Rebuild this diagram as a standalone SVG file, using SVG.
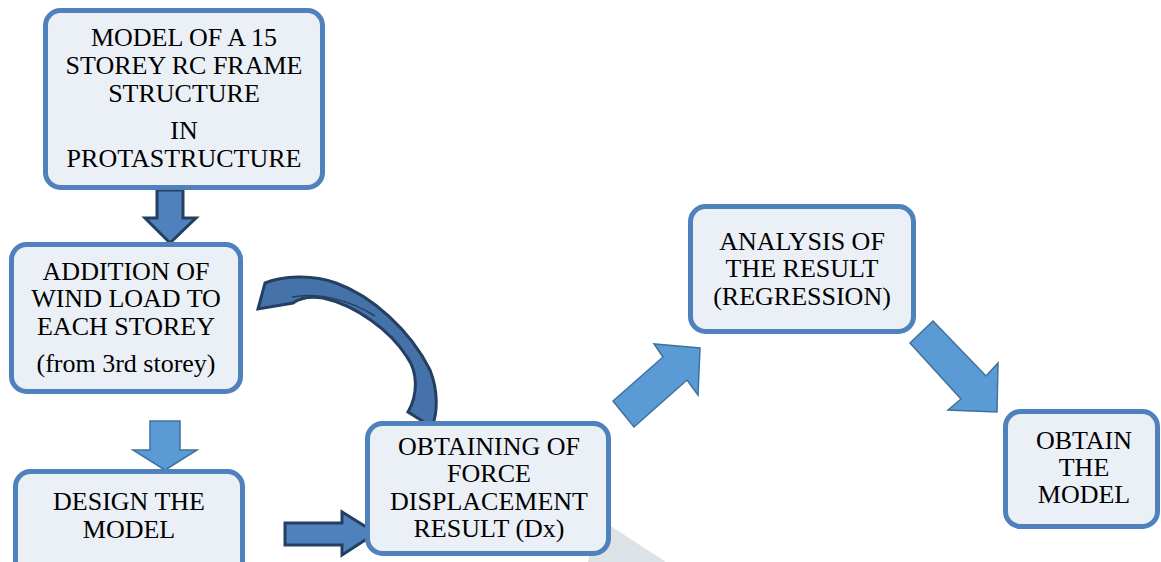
<svg xmlns="http://www.w3.org/2000/svg" width="1161" height="562" viewBox="0 0 1161 562">
<style>
.box{fill:#ebf0f7;stroke:#4f81bd;stroke-width:5}
.t{font-size:26px;fill:#000;text-anchor:middle}
.dark{fill:#4f81bd;stroke:#243f60;stroke-width:3;stroke-linejoin:miter}
.light{fill:#5b9bd5;stroke:#41719c;stroke-width:1.5;stroke-linejoin:miter}
</style>
<rect width="1161" height="562" fill="#ffffff"/>
<polygon points="598,519 612,527 666,562 588,562" fill="#dce2e5"/>
<g id="connectors">
<polygon class="dark" points="157,190 183,190 183,218 196,218 170,243 145,218 157,218"/>
<polygon class="light" points="150,421 180,421 180,450 197,450 165,470 133,450 150,450"/>
<polygon class="dark" points="285,523 342,523 342,512 376,533 342,555 342,545 285,545"/>
<polygon class="light" points="613,401 663,357 654,344 700,348 698,395 687,380 634,427"/>
<polygon class="light" points="933,321 986,376 998,363 997,412 948,410 961,399 910,343"/>
<path d="M265,283 C282,276 312,274 336,283 C372,296 410,330 430,370 C438,390 438,412 432,427 L408,412 C418,395 418,372 407,357 C390,330 355,305 323,298 C310,296 300,298 293,303 L258,309 Z" fill="#4472a9" stroke="#243f60" stroke-width="3" stroke-linejoin="miter"/>
<path d="M292,297 C318,292 350,300 375,316" fill="none" stroke="#243f60" stroke-width="1.5"/>
</g>
<g font-family="'Liberation Serif', 'Times New Roman', 'DejaVu Serif', serif">
<g id="node1">
<rect class="box" x="45.5" y="10.5" width="277" height="177" rx="15"/>
<text class="t" x="184" y="46">MODEL OF A 15</text>
<text class="t" x="184" y="73.5">STOREY RC FRAME</text>
<text class="t" x="184" y="101.5">STRUCTURE</text>
<text class="t" x="184" y="139">IN</text>
<text class="t" x="184" y="167">PROTASTRUCTURE</text>
</g>
<g id="node2">
<rect class="box" x="11.5" y="244.5" width="229" height="147" rx="15"/>
<text class="t" x="126" y="280">ADDITION OF</text>
<text class="t" x="126" y="307">WIND LOAD TO</text>
<text class="t" x="126" y="335">EACH STOREY</text>
<text class="t" x="126" y="372">(from 3rd storey)</text>
</g>
<g id="node3">
<rect class="box" x="15.5" y="471.5" width="227" height="110" rx="15"/>
<text class="t" x="129" y="510">DESIGN THE</text>
<text class="t" x="129" y="538">MODEL</text>
</g>
<g id="node4">
<rect class="box" x="367.5" y="423.5" width="241" height="130" rx="15"/>
<text class="t" x="489" y="455">OBTAINING OF</text>
<text class="t" x="489" y="482">FORCE</text>
<text class="t" x="489" y="510">DISPLACEMENT</text>
<text class="t" x="489" y="537">RESULT (Dx)</text>
</g>
<g id="node5">
<rect class="box" x="690.5" y="206.5" width="223" height="125" rx="15"/>
<text class="t" x="802" y="250">ANALYSIS OF</text>
<text class="t" x="802" y="277">THE RESULT</text>
<text class="t" x="802" y="305">(REGRESSION)</text>
</g>
<g id="node6">
<rect class="box" x="1005.5" y="411.5" width="152" height="115" rx="15"/>
<text class="t" x="1084" y="449">OBTAIN</text>
<text class="t" x="1084" y="476">THE</text>
<text class="t" x="1084" y="503">MODEL</text>
</g>
</g>
</svg>
